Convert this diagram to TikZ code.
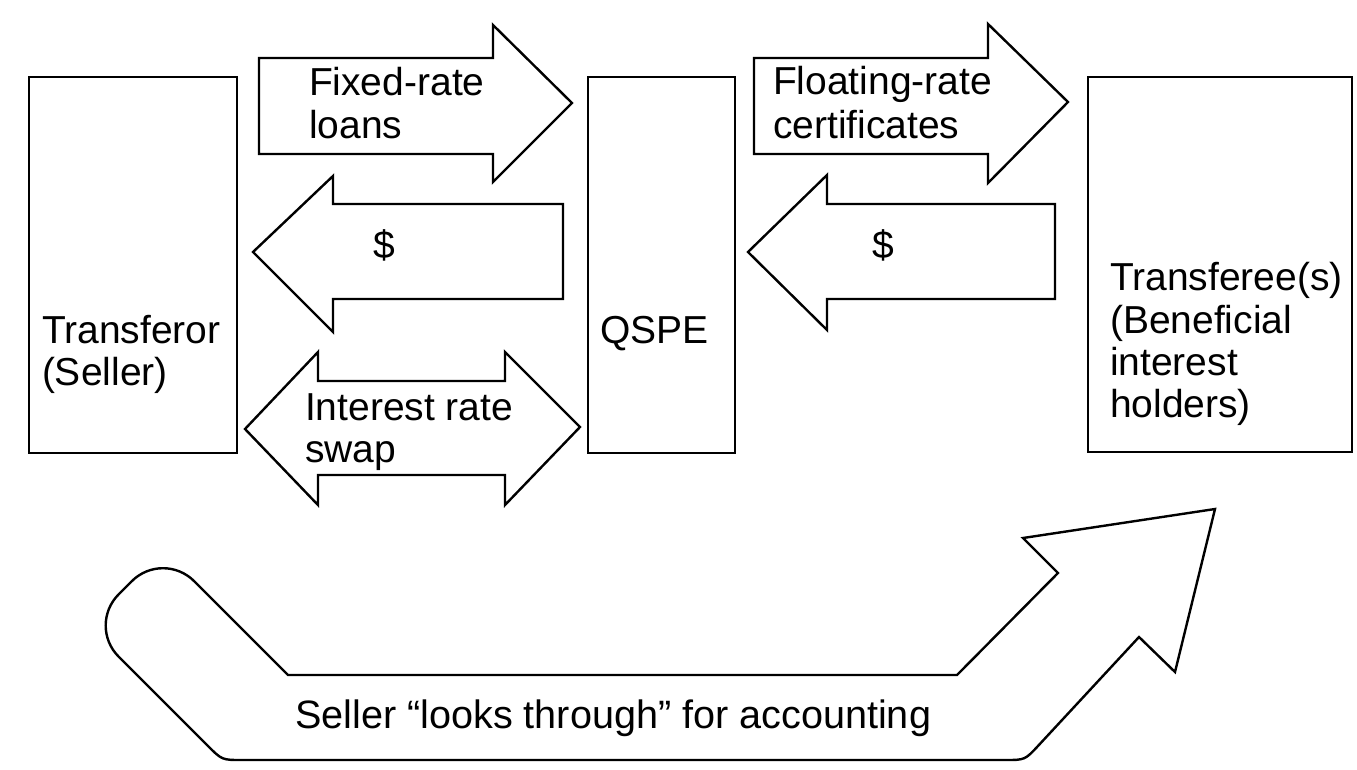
\documentclass[tikz,border=0pt]{standalone}
\usepackage{fontspec}
\setmainfont{Liberation Sans}
\begin{document}
\begin{tikzpicture}[x=1pt,y=-1pt,
  every node/.style={font=\fontsize{39}{42}\selectfont, inner sep=0pt, outer sep=0pt},
  party/.style={draw, line width=2.4pt, fill=white, rectangle, anchor=north west},
  blockarrow/.style={draw, line width=2.4pt, fill=white, line join=miter},
  lbl/.style={anchor=base west},
  money/.style={anchor=base},
]
\useasboundingbox (0,0) rectangle (1357,769);
\fill[white] (0,0) rectangle (1357,769);

% the three parties
\node[party, minimum width=208pt, minimum height=376pt] (seller) at (29,77) {};
\node[party, minimum width=147pt, minimum height=376pt] (qspe) at (588,77) {};
\node[party, minimum width=264pt, minimum height=375pt] (buyers) at (1088,77) {};

\node[lbl] (sellerA) at (42,343) {Transferor};
\node[lbl] (sellerB) at (42,385) {(Seller)};
\node[lbl] (qspeA) at (600,343) {QSPE};
\node[lbl] (buyersA) at (1110,290) {Transferee(s)};
\node[lbl] (buyersB) at (1110,333) {(Beneficial};
\node[lbl] (buyersC) at (1110,375) {interest};
\node[lbl] (buyersD) at (1110,417) {holders)};

% fixed-rate loans: seller -> QSPE
\draw[blockarrow] (259,58) -- (493,58) -- (493,25) -- (572,103) -- (493,182)
  -- (493,154) -- (259,154) -- cycle;
\node[lbl] (loansA) at (309,95) {Fixed-rate};
\node[lbl] (loansB) at (309,138) {loans};

% cash: QSPE -> seller
\draw[blockarrow] (563,204) -- (333,204) -- (333,176) -- (253,252) -- (333,332)
  -- (333,299) -- (563,299) -- cycle;
\node[money] (cashA) at (384,258) {\$};

% interest rate swap, both ways
\draw[blockarrow] (245,429) -- (318,352) -- (318,381) -- (505,381) -- (505,352)
  -- (580,427) -- (505,505) -- (505,475) -- (318,475) -- (318,505) -- cycle;
\node[lbl] (swapA) at (305,420) {Interest rate};
\node[lbl] (swapB) at (305,462) {swap};

% floating-rate certificates: QSPE -> transferees
\draw[blockarrow] (754,58) -- (988,58) -- (988,24) -- (1068,102) -- (988,183)
  -- (988,154) -- (754,154) -- cycle;
\node[lbl] (certA) at (773,94) {Floating-rate};
\node[lbl] (certB) at (773,138) {certificates};

% cash: transferees -> QSPE
\draw[blockarrow] (1055,204) -- (827,204) -- (827,175) -- (748,252) -- (827,330)
  -- (827,299) -- (1055,299) -- cycle;
\node[money] (cashB) at (883,258) {\$};

% look-through arrow along the bottom
\draw[blockarrow] (288,675) -- (957,675) -- (1058,573) -- (1023,538) -- (1215,509)
  -- (1175,672) -- (1139,637) -- (1038.6,745.3) .. controls (1025,760) .. (1005,760)
  -- (242,760) .. controls (222,760) .. (207.9,745.9)
  -- (118.6,656.6) .. controls (101.4,639.4) and (101.4,611.6) .. (118.6,594.4)
  -- (131.9,581.1) .. controls (149.1,563.9) and (176.9,563.9) .. (194.1,581.1)
  -- cycle;
\node[lbl, font=\fontsize{39.6}{42}\selectfont] (lookthrough) at (295,728)
  {Seller “looks through” for accounting};
\end{tikzpicture}
\end{document}
